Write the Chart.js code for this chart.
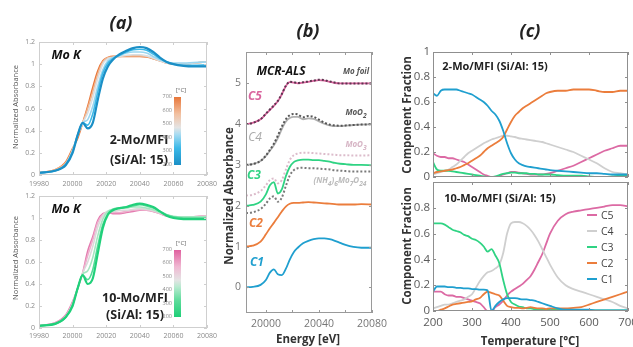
<!DOCTYPE html>
<html>
<head>
<meta charset="utf-8">
<script src="https://cdn.jsdelivr.net/npm/chart.js@4.4.1/dist/chart.umd.min.js"></script>
<style>
  html, body { margin: 0; padding: 0; background: #fff; }
  #fig { position: relative; width: 633px; height: 347px; overflow: hidden; font-family: "Open Sans", sans-serif; }
  #fig canvas { position: absolute; left: 0; top: 0; }
  .c { position: absolute; transform: translate(-50%, -50%); white-space: nowrap; line-height: 1; }
  .r { position: absolute; transform: translate(-50%, -50%) rotate(-90deg); white-space: nowrap; line-height: 1; }
  .hdr { font: italic 700 18px "Open Sans"; color: #222; }
  .ya { font: 400 7.5px "Open Sans"; color: #555; }
  .mok { font: italic 700 12.5px "Open Sans"; color: #111; }
  .smp { font: 700 12.5px "Open Sans"; color: #222; }
  .unit { font: 400 6px "Open Sans"; color: #666; }
  .cbar { position: absolute; width: 7px; }
  .cbl { position: absolute; transform: translate(-100%, -50%); font: 400 5.5px "Open Sans"; color: #888; line-height: 1; }
  .axt { font: 700 11.5px "Open Sans"; color: #333; }
  .ref { font: italic 700 8px "Open Sans"; }
  .comp { font: italic 700 12px "Open Sans"; }
  .lg { position: absolute; font: 400 10.5px "Open Sans"; color: #444; line-height: 1; transform: translateY(-50%); }
  .lgl { position: absolute; width: 10px; height: 2px; }
</style>
</head>
<body>
<div id="fig">
  <canvas id="aTop" width="633" height="347"></canvas>
  <canvas id="aBottom" width="633" height="347"></canvas>
  <canvas id="bPanel" width="633" height="347"></canvas>
  <canvas id="cTop" width="633" height="347"></canvas>
  <canvas id="cBottom" width="633" height="347"></canvas>

  <span class="c hdr" style="left:121px;top:22px">(a)</span>
  <span class="c hdr" style="left:308px;top:30px">(b)</span>
  <span class="c hdr" style="left:530px;top:30px">(c)</span>

  <!-- (a) -->
  <span class="r ya" style="left:15px;top:107px">Normalized Absorbance</span>
  <span class="r ya" style="left:15px;top:258px">Normalized Absorbance</span>
  <span class="c mok" style="left:66px;top:54px">Mo K</span>
  <span class="c mok" style="left:66px;top:208px">Mo K</span>
  <span class="c smp" style="left:139px;top:139px">2-Mo/MFI</span>
  <span class="c smp" style="left:139px;top:159px">(Si/Al: 15)</span>
  <span class="c smp" style="left:135px;top:297px">10-Mo/MFI</span>
  <span class="c smp" style="left:135px;top:314px">(Si/Al: 15)</span>
  <span class="c unit" style="left:181px;top:90px">[°C]</span>
  <span class="c unit" style="left:181px;top:243px">[°C]</span>
  <div class="cbar" style="left:174px;top:97px;height:68px;background:linear-gradient(to top,#1b8fc6 0%,#3cb9e8 25%,#a8dcf2 45%,#e4e4e4 55%,#f2c0a0 75%,#e8773a 100%)"></div>
  <div class="cbar" style="left:174px;top:250px;height:67px;background:linear-gradient(to top,#1fcf78 0%,#5fdc9c 25%,#b8ead0 45%,#e4e4e4 55%,#f0b8d2 75%,#e0609f 100%)"></div>
  <span class="c" style="left:120px;top:348px;font:400 8px 'Open Sans';color:#777">Energy [eV]</span>

  <!-- (b) -->
  <span class="r axt" style="left:228px;top:196px">Normalized Absorbance</span>
  <span class="c axt" style="left:308px;top:338px">Energy [eV]</span>
  <span class="c" style="left:281px;top:70px;font:italic 700 12px 'Open Sans';color:#111">MCR-ALS</span>
  <span class="c ref" style="left:356px;top:70px;color:#555">Mo foil</span>
  <span class="c ref" style="left:356px;top:113px;color:#555">MoO<sub>2</sub></span>
  <span class="c ref" style="left:356px;top:145px;color:#d6b4c4">MoO<sub>3</sub></span>
  <span class="c ref" style="left:340px;top:181px;color:#bbb">(NH<sub>4</sub>)<sub>6</sub>Mo<sub>7</sub>O<sub>24</sub></span>
  <span class="c comp" style="left:255px;top:95px;color:#d9649e">C5</span>
  <span class="c comp" style="left:255px;top:136px;color:#aaa;font-weight:400">C4</span>
  <span class="c comp" style="left:254px;top:174px;color:#2fd383">C3</span>
  <span class="c comp" style="left:256px;top:222px;color:#eb7d3c">C2</span>
  <span class="c comp" style="left:257px;top:261px;color:#1f9fcf">C1</span>

  <!-- (c) -->
  <span class="r axt" style="left:406px;top:115px">Component Fraction</span>
  <span class="r axt" style="left:406px;top:246px">Component Fraction</span>
  <span class="c axt" style="left:530px;top:340px">Temperature [°C]</span>
  <span class="c" style="left:495px;top:65px;font:700 11px 'Open Sans';color:#222">2-Mo/MFI (Si/Al: 15)</span>
  <span class="c" style="left:500px;top:197px;font:700 11px 'Open Sans';color:#222">10-Mo/MFI (Si/Al: 15)</span>
</div>

<script>
const W = 633, H = 347;

// ---------- (a) Mo K-edge XANES while heating ----------
const energyA = [19980, 19990, 19996, 20000, 20003, 20006, 20009, 20012, 20015, 20018, 20021, 20024,
                 20028, 20032, 20036, 20040, 20044, 20048, 20052, 20056, 20060, 20066, 20072, 20080];
const energyTicksA = [19980, 20000, 20020, 20040, 20060, 20080];
const absTicks = [0, 0.2, 0.4, 0.6, 0.8, 1, 1.2];
const tempsA = [200, 300, 400, 500, 600, 700];

// 2-Mo/MFI
const mo2_200 = [0.02, 0.04, 0.09, 0.20, 0.36, 0.47, 0.42, 0.47, 0.68, 0.87, 0.98, 1.04, 1.09, 1.12, 1.145, 1.155, 1.145, 1.11, 1.06, 1.02, 1.00, 0.985, 0.98, 0.98];
const mo2_300 = [0.02, 0.04, 0.10, 0.21, 0.36, 0.47, 0.45, 0.55, 0.75, 0.92, 1.01, 1.05, 1.08, 1.11, 1.13, 1.135, 1.125, 1.09, 1.05, 1.02, 1.00, 0.99, 0.99, 0.995];
const mo2_400 = [0.02, 0.04, 0.10, 0.22, 0.36, 0.47, 0.50, 0.62, 0.80, 0.95, 1.03, 1.06, 1.08, 1.10, 1.11, 1.11, 1.10, 1.07, 1.04, 1.02, 1.01, 1.01, 1.015, 1.02];
const mo2_500 = [0.02, 0.04, 0.10, 0.22, 0.36, 0.47, 0.56, 0.70, 0.87, 1.00, 1.05, 1.06, 1.07, 1.08, 1.085, 1.085, 1.075, 1.055, 1.03, 1.01, 1.00, 1.00, 1.01, 1.02];
const mo2_600 = [0.02, 0.05, 0.11, 0.23, 0.35, 0.47, 0.60, 0.75, 0.91, 1.02, 1.06, 1.065, 1.07, 1.075, 1.075, 1.075, 1.07, 1.05, 1.03, 1.01, 1.00, 1.00, 1.01, 1.02];
const mo2_700 = [0.02, 0.05, 0.12, 0.24, 0.33, 0.47, 0.62, 0.79, 0.94, 1.03, 1.06, 1.07, 1.07, 1.07, 1.07, 1.07, 1.065, 1.05, 1.03, 1.01, 1.00, 1.00, 1.01, 1.02];
const mo2Colors = ['#1b8fc6', '#3cb9e8', '#9ad6f0', '#d8dfe3', '#f0b58f', '#e8773a'];

// 10-Mo/MFI
const mo10_200 = [0.02, 0.04, 0.10, 0.20, 0.36, 0.48, 0.40, 0.45, 0.68, 0.91, 1.03, 1.07, 1.09, 1.10, 1.12, 1.13, 1.12, 1.10, 1.06, 1.02, 1.00, 0.99, 0.99, 0.99];
const mo10_300 = [0.02, 0.04, 0.10, 0.21, 0.36, 0.48, 0.44, 0.53, 0.75, 0.94, 1.04, 1.08, 1.09, 1.10, 1.11, 1.12, 1.11, 1.09, 1.06, 1.03, 1.01, 1.00, 1.00, 1.00];
const mo10_400 = [0.02, 0.04, 0.10, 0.21, 0.36, 0.49, 0.52, 0.64, 0.84, 0.99, 1.06, 1.08, 1.09, 1.09, 1.10, 1.10, 1.09, 1.075, 1.05, 1.03, 1.015, 1.01, 1.01, 1.01];
const mo10_500 = [0.02, 0.04, 0.11, 0.22, 0.36, 0.50, 0.60, 0.74, 0.92, 1.02, 1.06, 1.06, 1.07, 1.07, 1.08, 1.085, 1.08, 1.065, 1.045, 1.025, 1.01, 1.005, 1.01, 1.015];
const mo10_600 = [0.02, 0.05, 0.11, 0.23, 0.36, 0.50, 0.66, 0.80, 0.96, 1.03, 1.05, 1.05, 1.05, 1.06, 1.07, 1.075, 1.07, 1.06, 1.04, 1.02, 1.01, 1.00, 1.01, 1.02];
const mo10_700 = [0.02, 0.05, 0.12, 0.24, 0.36, 0.50, 0.70, 0.83, 0.98, 1.04, 1.05, 1.04, 1.04, 1.05, 1.06, 1.07, 1.07, 1.06, 1.04, 1.02, 1.01, 1.00, 1.01, 1.02];
const mo10Colors = ['#20d07a', '#55da97', '#a4e6c0', '#dadada', '#eeb0cd', '#e47aaf'];

const cbarTicks = [200, 300, 400, 500, 600, 700];

// ---------- (b) MCR-ALS components with references (offset) ----------
const energyB = [19985, 19990, 19996, 20000, 20003, 20006, 20009, 20012, 20015, 20018, 20021, 20024,
                 20028, 20032, 20036, 20040, 20044, 20048, 20052, 20056, 20060, 20066, 20072, 20080];
const energyTicksB = [20000, 20020, 20040, 20060, 20080];
const offsetTicksB = [0, 1, 2, 3, 4, 5];
const specC1 = [0.00, 0.01, 0.06, 0.18, 0.36, 0.44, 0.32, 0.30, 0.45, 0.68, 0.86, 0.97, 1.08, 1.14, 1.18, 1.20, 1.20, 1.18, 1.14, 1.09, 1.04, 0.99, 0.97, 0.97];
const specC2 = [1.00, 1.02, 1.12, 1.30, 1.45, 1.58, 1.72, 1.86, 1.98, 2.05, 2.07, 2.07, 2.08, 2.09, 2.08, 2.07, 2.06, 2.05, 2.04, 2.03, 2.03, 2.03, 2.04, 2.03];
const specC3 = [2.00, 2.02, 2.10, 2.28, 2.50, 2.58, 2.30, 2.40, 2.72, 2.95, 3.07, 3.11, 3.13, 3.13, 3.12, 3.12, 3.10, 3.08, 3.05, 3.03, 3.02, 3.00, 3.00, 2.99];
const specC4 = [3.00, 3.02, 3.10, 3.22, 3.35, 3.48, 3.66, 3.88, 4.06, 4.15, 4.18, 4.18, 4.12, 4.14, 4.13, 4.07, 4.01, 3.97, 3.95, 3.95, 3.96, 3.98, 3.99, 4.00];
const specC5 = [4.00, 4.03, 4.12, 4.25, 4.35, 4.45, 4.56, 4.73, 4.93, 5.03, 5.02, 5.00, 5.02, 5.04, 5.06, 5.08, 5.07, 5.04, 5.01, 5.00, 5.00, 5.00, 5.00, 5.00];
const refMoFoil = [4.00, 4.03, 4.12, 4.26, 4.36, 4.46, 4.57, 4.74, 4.94, 5.04, 5.03, 5.01, 5.03, 5.05, 5.07, 5.09, 5.08, 5.05, 5.02, 5.00, 5.00, 5.00, 5.00, 5.00];
const refMoO2 = [3.00, 3.02, 3.10, 3.23, 3.37, 3.52, 3.72, 3.94, 4.12, 4.22, 4.25, 4.24, 4.17, 4.20, 4.18, 4.11, 4.04, 3.99, 3.97, 3.96, 3.97, 3.98, 3.99, 4.00];
const refMoO3 = [2.25, 2.27, 2.36, 2.50, 2.63, 2.67, 2.55, 2.63, 2.88, 3.12, 3.24, 3.28, 3.30, 3.30, 3.29, 3.28, 3.27, 3.26, 3.25, 3.24, 3.24, 3.23, 3.23, 3.24];
const refAHM = [1.82, 1.84, 1.92, 2.05, 2.18, 2.23, 2.10, 2.20, 2.48, 2.74, 2.87, 2.92, 2.93, 2.92, 2.92, 2.91, 2.90, 2.89, 2.87, 2.86, 2.85, 2.84, 2.84, 2.84];

// ---------- (c) component fractions vs temperature ----------
const tempC = [200, 210, 220, 230, 240, 250, 260, 270, 280, 290, 300, 310, 320, 330, 340, 350, 360, 370, 380, 390,
               400, 410, 420, 430, 440, 450, 460, 470, 480, 490, 500, 520, 540, 560, 580, 600, 620, 640, 660, 680, 700];
const tempTicksC = [200, 300, 400, 500, 600, 700];
const fracTicks = [0, 0.2, 0.4, 0.6, 0.8, 1];
const compNames = ['C1', 'C2', 'C3', 'C4', 'C5'];
const compColors = ['#1f9fcf', '#eb7d3c', '#2fd383', '#cfcfcf', '#dc6aa4'];

const mo2C1 = [0.67, 0.65, 0.69, 0.70, 0.70, 0.70, 0.70, 0.69, 0.68, 0.67, 0.66, 0.64, 0.62, 0.60, 0.57, 0.53, 0.50, 0.45, 0.37, 0.27,
               0.19, 0.14, 0.11, 0.095, 0.085, 0.08, 0.075, 0.07, 0.065, 0.06, 0.055, 0.05, 0.045, 0.04, 0.035, 0.03, 0.03, 0.025, 0.02, 0.02, 0.02];
const mo2C2 = [0.03, 0.04, 0.045, 0.05, 0.055, 0.06, 0.07, 0.08, 0.095, 0.11, 0.13, 0.15, 0.17, 0.20, 0.23, 0.25, 0.27, 0.29, 0.32, 0.38,
               0.44, 0.49, 0.52, 0.55, 0.57, 0.59, 0.61, 0.63, 0.65, 0.67, 0.68, 0.69, 0.69, 0.70, 0.70, 0.70, 0.69, 0.68, 0.68, 0.69, 0.69];
const mo2C3 = [0.12, 0.06, 0.05, 0.05, 0.05, 0.045, 0.04, 0.035, 0.03, 0.025, 0.02, 0.015, 0.01, 0.005, 0.0, 0.0, 0.005, 0.015, 0.025, 0.03,
               0.035, 0.035, 0.03, 0.03, 0.03, 0.025, 0.025, 0.02, 0.02, 0.02, 0.02, 0.015, 0.01, 0.01, 0.01, 0.005, 0.0, 0.0, 0.005, 0.01, 0.01];
const mo2C4 = [0.02, 0.03, 0.04, 0.05, 0.06, 0.08, 0.10, 0.13, 0.16, 0.19, 0.21, 0.23, 0.25, 0.27, 0.285, 0.30, 0.31, 0.32, 0.33, 0.33,
               0.325, 0.32, 0.31, 0.305, 0.30, 0.295, 0.29, 0.285, 0.28, 0.27, 0.26, 0.24, 0.22, 0.20, 0.17, 0.14, 0.11, 0.07, 0.04, 0.03, 0.02];
const mo2C5 = [0.19, 0.17, 0.16, 0.16, 0.15, 0.15, 0.14, 0.13, 0.12, 0.10, 0.08, 0.06, 0.04, 0.02, 0.01, 0.0, 0.0, 0.01, 0.02, 0.03,
               0.04, 0.04, 0.035, 0.03, 0.025, 0.02, 0.02, 0.02, 0.02, 0.025, 0.03, 0.05, 0.07, 0.09, 0.12, 0.15, 0.18, 0.21, 0.23, 0.25, 0.25];

const mo10C1 = [0.15, 0.19, 0.19, 0.19, 0.185, 0.185, 0.18, 0.18, 0.175, 0.175, 0.17, 0.17, 0.165, 0.165, 0.16, 0.0, 0.04, 0.07, 0.09, 0.10,
                0.10, 0.10, 0.095, 0.09, 0.09, 0.085, 0.08, 0.07, 0.06, 0.05, 0.04, 0.02, 0.01, 0.01, 0.01, 0.01, 0.005, 0.005, 0.005, 0.005, 0.005];
const mo10C2 = [0.0, 0.0, 0.01, 0.02, 0.035, 0.05, 0.055, 0.06, 0.065, 0.07, 0.075, 0.09, 0.10, 0.13, 0.15, 0.14, 0.13, 0.12, 0.08, 0.04,
                0.03, 0.025, 0.025, 0.02, 0.025, 0.03, 0.025, 0.02, 0.02, 0.015, 0.02, 0.02, 0.02, 0.025, 0.03, 0.05, 0.07, 0.09, 0.11, 0.13, 0.15];
const mo10C3 = [0.68, 0.68, 0.68, 0.67, 0.65, 0.63, 0.62, 0.61, 0.59, 0.58, 0.56, 0.55, 0.53, 0.50, 0.46, 0.48, 0.43, 0.37, 0.24, 0.13,
                0.07, 0.05, 0.035, 0.03, 0.02, 0.02, 0.015, 0.01, 0.01, 0.01, 0.01, 0.01, 0.01, 0.005, 0.005, 0.005, 0.005, 0.005, 0.005, 0.005, 0.005];
const mo10C4 = [0.02, 0.03, 0.04, 0.05, 0.05, 0.06, 0.07, 0.08, 0.09, 0.11, 0.13, 0.18, 0.23, 0.27, 0.30, 0.31, 0.33, 0.36, 0.45, 0.60,
                0.68, 0.69, 0.69, 0.68, 0.66, 0.63, 0.59, 0.54, 0.48, 0.42, 0.36, 0.26, 0.20, 0.17, 0.15, 0.13, 0.11, 0.09, 0.07, 0.04, 0.02];
const mo10C5 = [0.15, 0.15, 0.15, 0.13, 0.12, 0.12, 0.11, 0.11, 0.10, 0.09, 0.08, 0.07, 0.06, 0.03, 0.0, 0.0, 0.03, 0.05, 0.08, 0.12,
                0.15, 0.17, 0.19, 0.21, 0.24, 0.27, 0.32, 0.38, 0.44, 0.52, 0.60, 0.70, 0.75, 0.77, 0.78, 0.79, 0.80, 0.81, 0.82, 0.82, 0.81];

// box around the plot area with small inward ticks on all four sides
const boxFrame = {
  id: 'boxFrame',
  afterDatasetsDraw(chart, args, opts) {
    const { ctx, chartArea: area, scales } = chart;
    const len = opts.len;
    ctx.save();
    ctx.lineWidth = 1;
    ctx.strokeStyle = opts.color;
    ctx.beginPath();
    scales.x.ticks.forEach(t => {
      const px = Math.round(scales.x.getPixelForValue(t.value)) + 0.5;
      ctx.moveTo(px, area.bottom); ctx.lineTo(px, area.bottom - len);
      ctx.moveTo(px, area.top); ctx.lineTo(px, area.top + len);
    });
    scales.y.ticks.forEach(t => {
      const py = Math.round(scales.y.getPixelForValue(t.value)) + 0.5;
      ctx.moveTo(area.left, py); ctx.lineTo(area.left + len, py);
      ctx.moveTo(area.right, py); ctx.lineTo(area.right - len, py);
    });
    ctx.stroke();
    ctx.strokeRect(Math.round(area.left) + 0.5, Math.round(area.top) + 0.5,
                   Math.round(area.right - area.left) - 1, Math.round(area.bottom - area.top) - 1);
    ctx.restore();
  }
};

// each axis gets a fixed strip (room) next to the plot so labels are not clipped
function axis(dir, a) {
  return {
    type: 'linear',
    min: a.min,
    max: a.max,
    grid: { display: false, drawTicks: false },
    border: { display: false },
    afterBuildTicks: s => { s.ticks = a.ticks.map(v => ({ value: v })); },
    afterFit: s => {
      if (dir === 'x') s.height = a.room; else s.width = a.room;
      s.paddingLeft = 0; s.paddingRight = 0; s.paddingTop = 0; s.paddingBottom = 0;
    },
    ticks: {
      autoSkip: false, maxRotation: 0, minRotation: 0,
      padding: a.pad, color: a.color,
      font: { family: 'Open Sans', size: a.size },
      callback: a.label
    }
  };
}

function series(xs, ys, color, width, dash) {
  return {
    data: xs.map((x, i) => ({ x: x, y: ys[i] })),
    borderColor: color,
    borderWidth: width,
    borderDash: dash || [],
    fill: false,
    pointRadius: 0
  };
}

function buildChart(id, box, xAxis, yAxis, datasets, frameColor) {
  const ctx = document.getElementById(id).getContext('2d');
  return new Chart(ctx, {
    type: 'line',
    data: { datasets: datasets },
    options: {
      responsive: false,
      animation: false,
      devicePixelRatio: 1,
      layout: { padding: {
        left: box.left - yAxis.room, top: box.top,
        right: W - box.right, bottom: H - box.bottom - xAxis.room
      } },
      elements: { line: { cubicInterpolationMode: 'monotone' }, point: { radius: 0 } },
      plugins: { legend: { display: false }, tooltip: { enabled: false }, boxFrame: { color: frameColor, len: 3 } },
      scales: { x: axis('x', xAxis), y: axis('y', yAxis) }
    },
    plugins: [boxFrame]
  });
}

const oneDecimal = v => String(Math.round(v * 10) / 10);
const plain = v => String(v);

function createPanelA() {
  const mo2 = [mo2_200, mo2_300, mo2_400, mo2_500, mo2_600, mo2_700];
  const mo10 = [mo10_200, mo10_300, mo10_400, mo10_500, mo10_600, mo10_700];
  const yA = { min: 0, max: 1.2, ticks: absTicks, pad: 4, color: '#8a8a8a', size: 7, label: oneDecimal, room: 24 };

  buildChart('aTop', { left: 39, right: 207, top: 42, bottom: 175 },
    { min: 19980, max: 20080, ticks: energyTicksA, pad: 5, color: '#8a8a8a', size: 7, label: plain, room: 14 }, yA,
    mo2.map((ys, i) => series(energyA, ys, mo2Colors[i], i === 0 ? 2.2 : 1.6)), '#cfcfcf');

  buildChart('aBottom', { left: 39, right: 207, top: 196, bottom: 328 },
    { min: 19980, max: 20080, ticks: energyTicksA, pad: 4, color: '#8a8a8a', size: 7, label: plain, room: 14 }, yA,
    mo10.map((ys, i) => series(energyA, ys, mo10Colors[i], i === 0 ? 2.2 : 1.6)), '#cfcfcf');

  // colour bar tick labels
  const fig = document.getElementById('fig');
  [[97, 68], [250, 67]].forEach(([top, h]) => {
    cbarTicks.forEach(v => {
      const s = document.createElement('span');
      s.className = 'cbl';
      s.textContent = v;
      s.style.left = '172px';
      s.style.top = (top + (700 - v) / 500 * h) + 'px';
      fig.appendChild(s);
    });
  });
}

function createPanelB() {
  const dots = [2, 2];
  buildChart('bPanel', { left: 246, right: 372, top: 52, bottom: 313 },
    { min: 19985, max: 20080, ticks: energyTicksB, pad: 5, color: '#777', size: 10.5, room: 20,
      label: v => (v % 40 === 0 ? String(v) : '') },
    { min: -0.63, max: 5.77, ticks: offsetTicksB, pad: 5, color: '#777', size: 10.5, label: plain, room: 16 },
    [
      series(energyB, refMoFoil, '#5e3550', 2, dots),
      series(energyB, refMoO2, '#555555', 2, dots),
      series(energyB, refMoO3, '#dcbccb', 2, dots),
      series(energyB, refAHM, '#7a7a7a', 2, dots),
      series(energyB, specC5, '#d9649e', 1.8),
      series(energyB, specC4, '#b0b0b0', 1.8),
      series(energyB, specC3, '#2fd383', 1.8),
      series(energyB, specC2, '#eb7d3c', 1.8),
      series(energyB, specC1, '#1f9fcf', 1.8)
    ], '#9a9a9a');
}

function createPanelC() {
  const mo2 = [mo2C1, mo2C2, mo2C3, mo2C4, mo2C5];
  const mo10 = [mo10C1, mo10C2, mo10C3, mo10C4, mo10C5];

  buildChart('cTop', { left: 433, right: 628, top: 52, bottom: 177 },
    { min: 200, max: 700, ticks: tempTicksC, pad: 6, color: '#5a5a5a', size: 11.5, label: () => '', room: 4 },
    { min: 0, max: 1, ticks: fracTicks, pad: 3, color: '#5a5a5a', size: 11.5, label: oneDecimal, room: 22 },
    mo2.map((ys, i) => series(tempC, ys, compColors[i], 1.8)), '#8f8f8f');

  buildChart('cBottom', { left: 433, right: 628, top: 182, bottom: 311 },
    { min: 200, max: 700, ticks: tempTicksC, pad: 5, color: '#5a5a5a', size: 11.5, label: plain, room: 20 },
    { min: 0, max: 1, ticks: fracTicks, pad: 3, color: '#5a5a5a', size: 11.5, room: 22,
      label: v => (v === 1 ? '' : oneDecimal(v)) },
    mo10.map((ys, i) => series(tempC, ys, compColors[i], 1.8)), '#8f8f8f');

  // legend, C5 on top
  const fig = document.getElementById('fig');
  for (let i = compNames.length - 1; i >= 0; i--) {
    const y = 215 + (compNames.length - 1 - i) * 16;
    const line = document.createElement('div');
    line.className = 'lgl';
    line.style.left = '587px';
    line.style.top = (y - 1) + 'px';
    line.style.background = compColors[i];
    fig.appendChild(line);
    const txt = document.createElement('span');
    txt.className = 'lg';
    txt.style.left = '601px';
    txt.style.top = y + 'px';
    txt.textContent = compNames[i];
    fig.appendChild(txt);
  }
}

createPanelA();
createPanelB();
createPanelC();
</script>
</body>
</html>
